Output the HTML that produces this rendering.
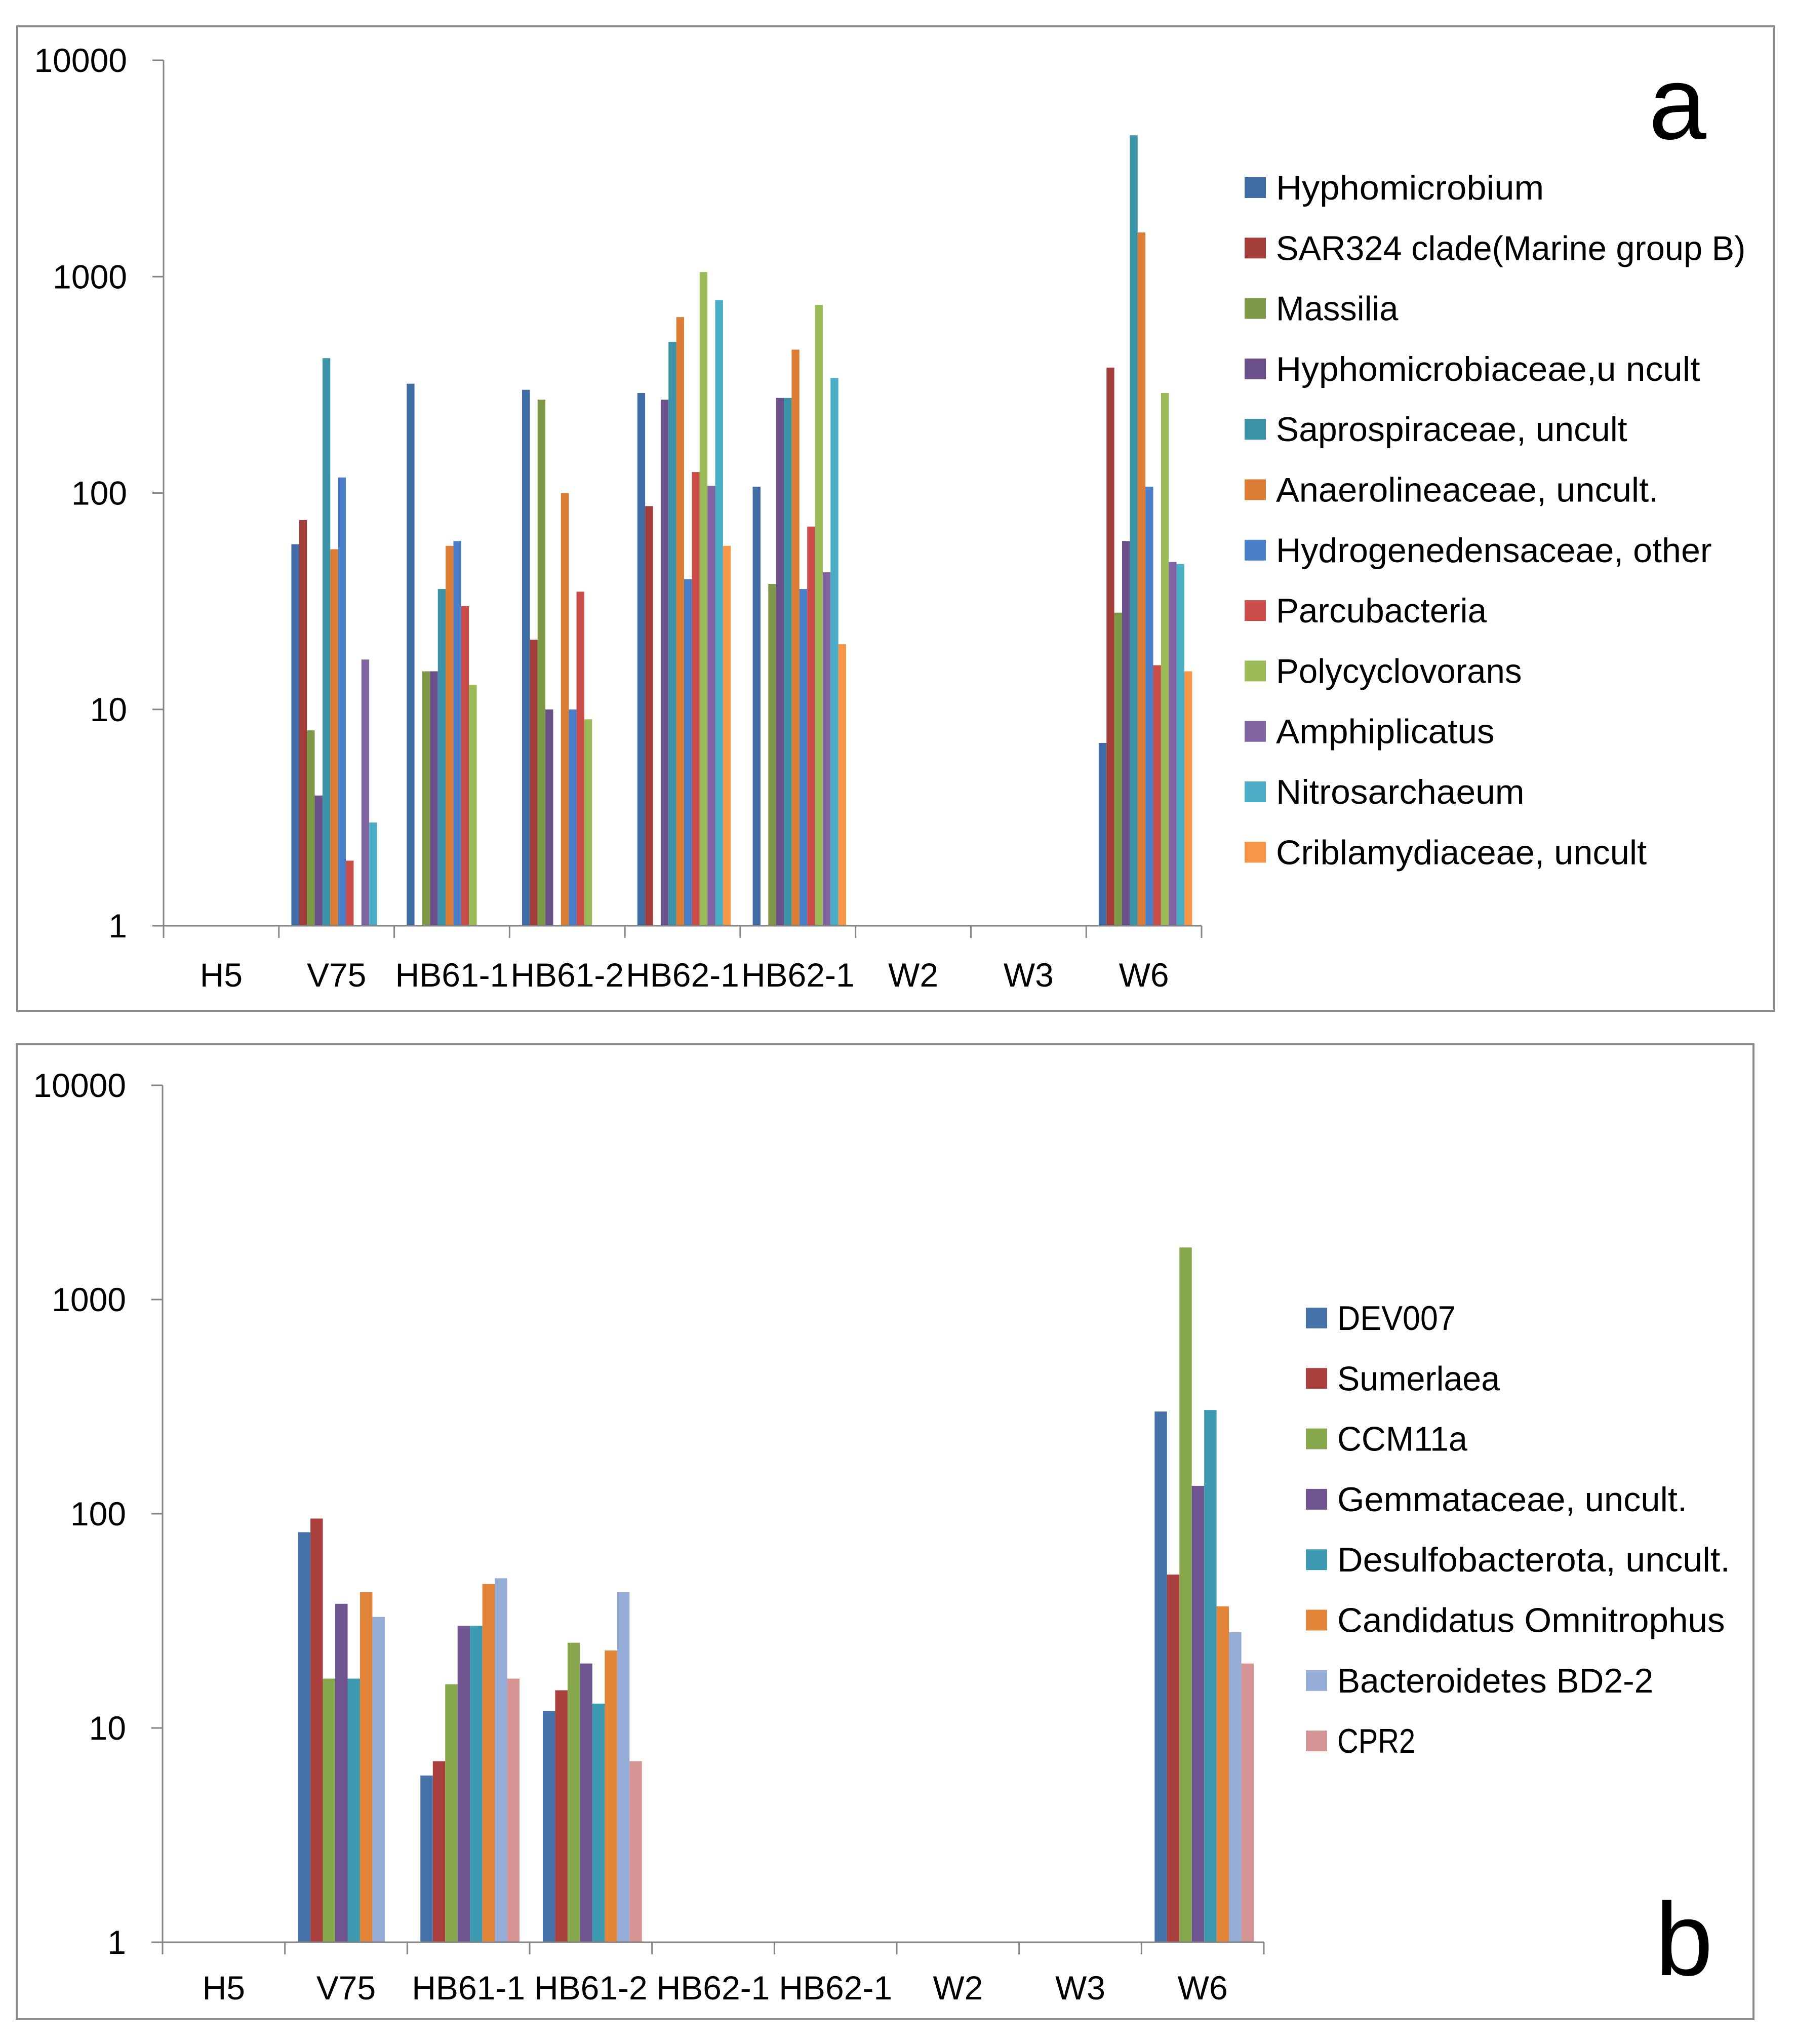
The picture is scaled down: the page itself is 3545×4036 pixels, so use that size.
<!DOCTYPE html>
<html><head><meta charset="utf-8"><style>
html,body{margin:0;padding:0;background:#fff}
svg{display:block;font-family:"Liberation Sans",sans-serif}
</style></head><body>
<svg id="root" width="3545" height="4036" viewBox="0 0 3545 4036" xmlns="http://www.w3.org/2000/svg">
<rect x="34" y="52" width="3470" height="1944" fill="#fff" stroke="#8a8a8a" stroke-width="4"/>
<rect x="33" y="2062" width="3430" height="1925" fill="#fff" stroke="#8a8a8a" stroke-width="4"/>
<text x="3313" y="274" font-size="205" text-anchor="middle" fill="#000">a</text>
<text x="3326" y="3900" font-size="205" text-anchor="middle" fill="#000">b</text>
<g id="ga"></g><g id="gb"></g>
</svg>
<script>
const categories = ["H5","V75","HB61-1","HB61-2","HB62-1","HB62-1","W2","W3","W6"];
const tickLabels = ["1","10","100","1000","10000"];
const seriesNamesA = ["Hyphomicrobium","SAR324 clade(Marine group B)","Massilia","Hyphomicrobiaceae,u ncult","Saprospiraceae, uncult","Anaerolineaceae, uncult.","Hydrogenedensaceae, other","Parcubacteria","Polycyclovorans","Amphiplicatus","Nitrosarchaeum","Criblamydiaceae, uncult"];
const hyphomicrobium = [0,58,320,300,290,107,0,0,7];
const sar324 = [0,75,0,21,87,0,0,0,380];
const massilia = [0,8,15,270,0,38,0,0,28];
const hyphomicrobiaceae = [0,4,15,10,270,275,0,0,60];
const saprospiraceae = [0,420,36,0,500,275,0,0,4500];
const anaerolineaceae = [0,55,57,100,650,460,0,0,1600];
const hydrogenedensaceae = [0,118,60,10,40,36,0,0,107];
const parcubacteria = [0,2,30,35,125,70,0,0,16];
const polycyclovorans = [0,0,13,9,1050,740,0,0,290];
const amphiplicatus = [0,17,0,0,108,43,0,0,48];
const nitrosarchaeum = [0,3,0,0,780,340,0,0,47];
const criblamydiaceae = [0,0,0,0,57,20,0,0,15];
const seriesNamesB = ["DEV007","Sumerlaea","CCM11a","Gemmataceae, uncult.","Desulfobacterota, uncult.","Candidatus Omnitrophus","Bacteroidetes BD2-2","CPR2"];
const dev007 = [0,82,6,12,0,0,0,0,300];
const sumerlaea = [0,95,7,15,0,0,0,0,52];
const ccm11a = [0,17,16,25,0,0,0,0,1750];
const gemmataceae = [0,38,30,20,0,0,0,0,135];
const desulfobacterota = [0,17,30,13,0,0,0,0,305];
const omnitrophus = [0,43,47,23,0,0,0,0,37];
const bd22 = [0,33,50,43,0,0,0,0,28];
const cpr2 = [0,0,17,7,0,0,0,0,20];

const NS="http://www.w3.org/2000/svg";
function mk(tag,attrs,parent){const e=document.createElementNS(NS,tag);for(const k in attrs)e.setAttribute(k,attrs[k]);parent.appendChild(e);return e;}

function drawChart(g,cfg){
  const {x0,x1,yBot,yTop,series,colors,names,legX,legY,legWidths,labY}=cfg;
  const cw=(x1-x0)/categories.length;
  const yScale=v=>yBot-(Math.log10(v)/4)*(yBot-yTop);
  const xCat=i=>x0+i*cw;
  const n=series.length;
  const gap=cw*0.19;
  const bw=(cw-gap)/n;
  series.forEach((s,si)=>{
    s.forEach((v,ci)=>{
      if(!(v>1))return;
      const r=mk('rect',{x:xCat(ci)+gap/2+si*bw+3,y:yScale(v),width:bw,height:yBot-yScale(v),fill:colors[si]},g);
      
      
    });
  });
  const ya=mk('line',{x1:x0,y1:yTop,x2:x0,y2:yBot,stroke:'#868686','stroke-width':3},g);
  
  
  const xa=mk('line',{x1:x0,y1:yBot,x2:x1,y2:yBot,stroke:'#868686','stroke-width':3},g);
  
  
  tickLabels.forEach((t,i)=>{
    const y=yScale(Math.pow(10,i));
    mk('line',{x1:x0-22,y1:y,x2:x0,y2:y,stroke:'#868686','stroke-width':3},g);
    const tx=mk('text',{x:x0-72,y:y+23,'font-size':66,'text-anchor':'end',fill:'#000'},g);
    tx.textContent=t;
    
    
  });
  for(let i=0;i<=categories.length;i++){
    mk('line',{x1:xCat(i),y1:yBot,x2:xCat(i),y2:yBot+24,stroke:'#868686','stroke-width':3},g);
  }
  categories.forEach((c,i)=>{
    const tx=mk('text',{x:xCat(i)+cw/2,y:labY,'font-size':66,'text-anchor':'middle',fill:'#000'},g);
    tx.textContent=c;
    
    
  });
  names.forEach((nm,i)=>{
    const cy=legY+i*119.3;
    const sq=mk('rect',{x:legX,y:cy-20,width:42,height:41,fill:colors[i]},g);
    
    
    const tx=mk('text',{x:legX+62,y:cy+24,'font-size':68,fill:'#000',textLength:legWidths[i],lengthAdjust:'spacingAndGlyphs'},g);
    tx.textContent=nm;
    
    
  });
}
const dA=v=>v*2.569;
drawChart(document.getElementById('ga'),{
  x0:323,x1:2373,yBot:1828,yTop:119,
  series:[hyphomicrobium,sar324,massilia,hyphomicrobiaceae,saprospiraceae,anaerolineaceae,hydrogenedensaceae,parcubacteria,polycyclovorans,amphiplicatus,nitrosarchaeum,criblamydiaceae],
  colors:["#3F6CA5","#A43E3B","#7E9A48","#6A5088","#3C93A8","#DC7D35","#4A7EC8","#CB4D4A","#9BBB59","#8064A2","#4BACC6","#F79646"],
  names:seriesNamesA,legX:2458,legY:370,labY:1948,
  legWidths:[1185,1340,1073,1305,1249,1273,1314,1141,1168,1147,1170,1264].map(e=>dA(e-979))
});
drawChart(document.getElementById('gb'),{
  x0:321,x1:2496,yBot:3835,yTop:2143,
  series:[dev007,sumerlaea,ccm11a,gemmataceae,desulfobacterota,omnitrophus,bd22,cpr2],
  colors:["#4571A9","#AA403D","#88A84D","#6E5592","#3D9AB0","#E38538","#95ADD6","#D59594"],
  names:seriesNamesB,legX:2579,legY:2602,labY:3948,
  legWidths:[1118,1152,1127,1296,1329,1325,1270,1087].map(e=>dA(e-1027))
});
</script>
</body></html>
